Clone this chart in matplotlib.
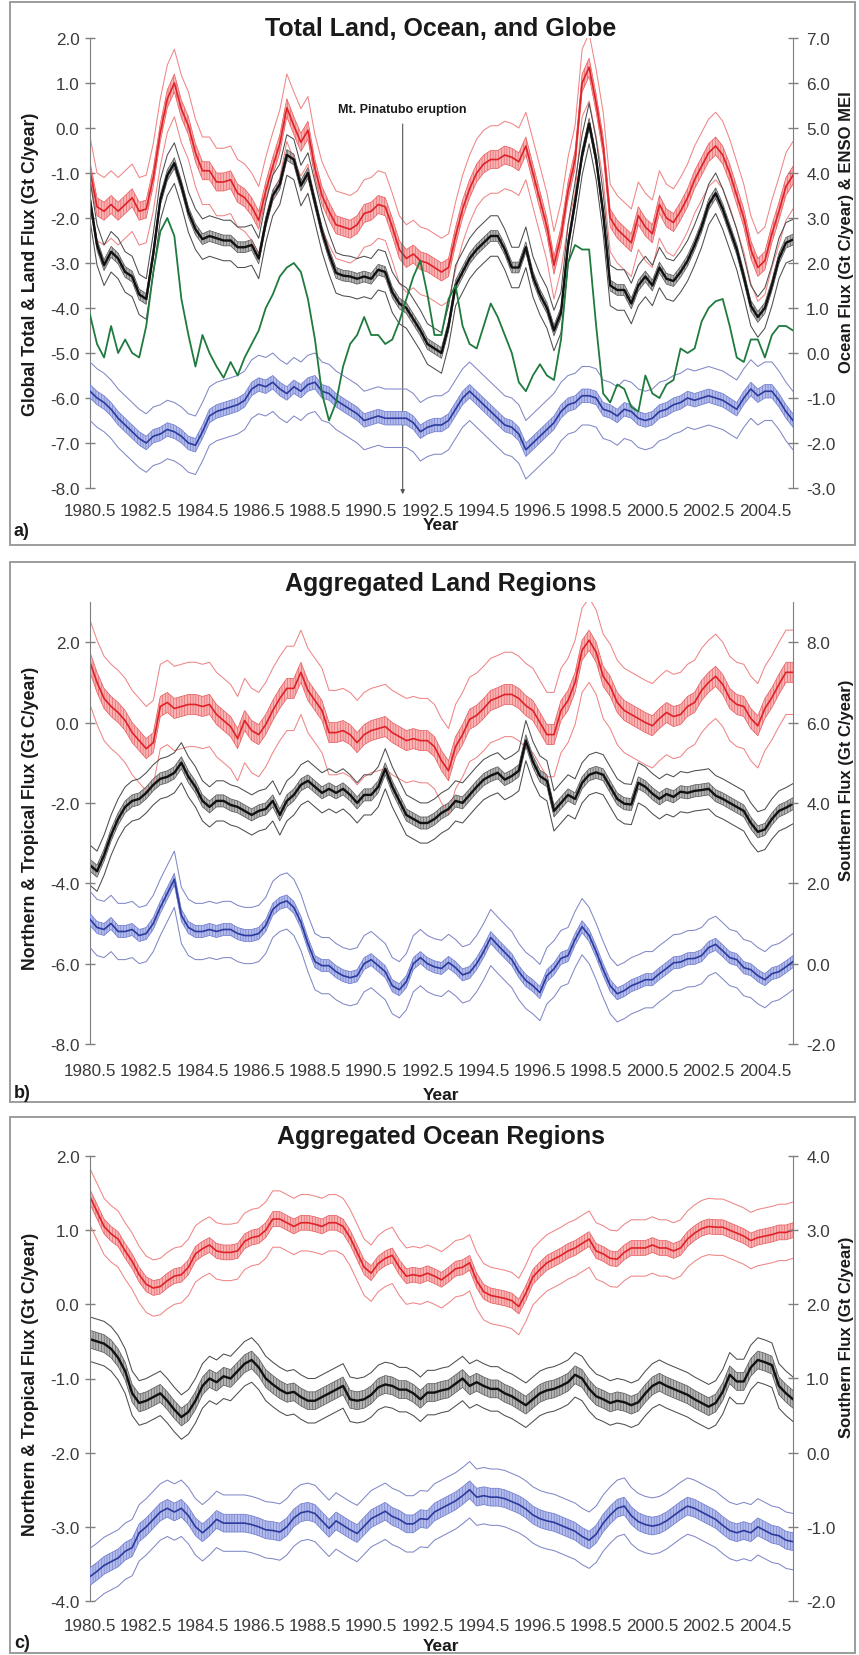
"""Recreate the three-panel carbon flux figure (global, land and ocean regions)."""

import numpy as np
import matplotlib

matplotlib.use("Agg")
from matplotlib import pyplot as plt
from matplotlib.patches import Rectangle

plt.rcParams["font.family"] = ["Liberation Sans", "Arial", "DejaVu Sans"]
plt.rcParams["axes.unicode_minus"] = False
plt.rcParams["hatch.linewidth"] = 0.4

# quarterly samples, 1980.5 .. 2005.5
YEARS = np.arange(1980.5, 2005.51, 0.25)
X_TICKS = np.arange(1980.5, 2004.6, 2.0)

# ---- panel a: total land (red), globe (black), ocean (blue, right axis), ENSO MEI (green, right axis)
LAND_TOTAL = [
    -0.95, -1.75,
    -1.85, -1.7, -1.85, -1.7,
    -1.55, -1.85, -1.8, -1.1,
    -0.1, 0.65, 1.0, 0.42,
    0.05, -0.55, -0.95, -0.95,
    -1.2, -1.2, -1.15, -1.45,
    -1.55, -1.75, -2.05, -1.4,
    -0.85, -0.35, 0.45, 0.05,
    -0.32, -0.05, -0.9, -1.5,
    -1.85, -2.15, -2.2, -2.25,
    -2.15, -1.9, -1.85, -1.7,
    -1.75, -2.2, -2.7, -2.9,
    -2.8, -2.95, -3.0, -3.1,
    -3.2, -3.1, -2.4, -1.8,
    -1.35, -1.0, -0.8, -0.7,
    -0.7, -0.6, -0.65, -0.75,
    -0.4, -1.0, -1.6, -2.2,
    -3.05, -2.4, -1.4, -0.7,
    1.0, 1.35, 0.55, -0.4,
    -2.0, -2.25, -2.4, -2.55,
    -1.95, -2.2, -2.35, -1.7,
    -2.0, -2.1, -1.85, -1.55,
    -1.15, -0.85, -0.55, -0.4,
    -0.6, -1.0, -1.5, -2.0,
    -2.7, -3.1, -2.95, -2.35,
    -1.85, -1.3, -1.05,
]
GLOBE_TOTAL = [
    -1.6, -2.6,
    -3.05, -2.75, -2.9, -3.2,
    -3.3, -3.7, -3.8, -2.8,
    -1.6, -1.05, -0.78, -1.28,
    -1.87, -2.25, -2.47, -2.4,
    -2.45, -2.5, -2.5, -2.65,
    -2.65, -2.6, -2.9, -2.1,
    -1.5, -1.25, -0.6, -0.7,
    -1.28, -1.0, -1.65, -2.3,
    -2.8, -3.22, -3.28, -3.3,
    -3.35, -3.3, -3.35, -3.15,
    -3.2, -3.65, -3.9, -4.0,
    -4.25, -4.5, -4.8, -4.9,
    -5.0, -4.4, -3.5, -3.2,
    -2.9, -2.7, -2.55, -2.4,
    -2.4, -2.7, -3.1, -3.1,
    -2.65, -3.3, -3.7, -4.0,
    -4.5, -4.1, -2.6, -1.65,
    -0.6, 0.1, -0.7, -1.9,
    -3.5, -3.6, -3.6, -3.9,
    -3.5, -3.3, -3.5, -3.1,
    -3.35, -3.4, -3.2, -2.95,
    -2.6, -2.2, -1.7, -1.45,
    -1.8, -2.25, -2.7, -3.3,
    -3.95, -4.2, -4.0, -3.5,
    -2.9, -2.55, -2.48,
]
OCEAN_TOTAL = [
    -0.85, -1.0,
    -1.1, -1.25, -1.45, -1.6,
    -1.75, -1.9, -2.0, -1.85,
    -1.8, -1.7, -1.75, -1.85,
    -2.0, -2.05, -1.75, -1.4,
    -1.3, -1.25, -1.2, -1.15,
    -1.05, -0.8, -0.7, -0.75,
    -0.65, -0.8, -0.9, -0.75,
    -0.85, -0.7, -0.65, -0.85,
    -0.9, -1.05, -1.15, -1.25,
    -1.35, -1.5, -1.45, -1.4,
    -1.45, -1.45, -1.45, -1.45,
    -1.55, -1.75, -1.65, -1.6,
    -1.6, -1.5, -1.25, -1.0,
    -0.85, -1.0, -1.15, -1.3,
    -1.45, -1.6, -1.65, -1.8,
    -2.15, -2.0, -1.85, -1.7,
    -1.55, -1.3, -1.15, -1.1,
    -0.95, -0.95, -1.0, -1.25,
    -1.3, -1.4, -1.25, -1.3,
    -1.45, -1.5, -1.45, -1.3,
    -1.25, -1.15, -1.1, -1.0,
    -1.05, -1.0, -0.95, -1.0,
    -1.05, -1.15, -1.25, -1.0,
    -0.8, -0.95, -0.85, -0.85,
    -1.05, -1.3, -1.5,
]
ENSO_MEI = [
    0.85, 0.2,
    -0.1, 0.6, 0.0, 0.3,
    0.0, -0.1, 0.6, 1.8,
    2.7, 3.0, 2.6, 1.2,
    0.4, -0.3, 0.4, 0.0,
    -0.3, -0.55, -0.2, -0.5,
    -0.1, 0.2, 0.5, 1.0,
    1.3, 1.7, 1.9, 2.0,
    1.8, 1.2, 0.3, -0.9,
    -1.5, -1.1, -0.3, 0.2,
    0.4, 0.8, 0.4, 0.4,
    0.2, 0.3, 0.7, 1.2,
    1.7, 2.05, 1.3, 0.4,
    0.4, 1.2, 1.5, 0.6,
    0.2, 0.1, 0.6, 1.1,
    0.8, 0.4, 0.0, -0.65,
    -0.85, -0.5, -0.25, -0.5,
    -0.6, 0.3, 2.0, 2.4,
    2.3, 2.3, 0.6, -0.9,
    -1.1, -0.7, -0.8, -1.2,
    -1.3, -0.5, -0.9, -1.0,
    -0.7, -0.6, 0.1, 0.0,
    0.1, 0.7, 1.0, 1.15,
    1.2, 0.6, -0.1, -0.2,
    0.3, 0.3, -0.1, 0.4,
    0.6, 0.6, 0.5,
]

# ---- panel b: aggregated land regions
LAND_RED = [
    1.5, 1.0,
    0.6, 0.4, 0.25, 0.05,
    -0.25, -0.45, -0.65, -0.5,
    0.4, 0.5, 0.35, 0.4,
    0.45, 0.45, 0.4, 0.45,
    0.2, 0.05, -0.1, -0.4,
    0.05, -0.2, -0.3, -0.05,
    0.3, 0.6, 0.85, 0.85,
    1.25, 0.8, 0.55, 0.3,
    -0.25, -0.25, -0.2, -0.3,
    -0.5, -0.3, -0.2, -0.15,
    -0.1, -0.25, -0.35, -0.45,
    -0.4, -0.45, -0.45, -0.6,
    -0.95, -1.2, -0.6, -0.3,
    0.08, 0.18, 0.35, 0.55,
    0.62, 0.7, 0.7, 0.6,
    0.42, 0.3, 0.0, -0.3,
    -0.3, 0.3, 0.55, 1.0,
    1.8, 2.05, 1.75, 1.15,
    0.9, 0.5, 0.3, 0.2,
    0.1, 0.0, -0.08, 0.1,
    0.25, 0.15, 0.2, 0.4,
    0.5, 0.8, 1.0, 1.15,
    0.95, 0.6, 0.45, 0.4,
    0.1, -0.08, 0.35, 0.62,
    0.95, 1.25, 1.25,
]
LAND_BLACK = [
    -3.55, -3.7,
    -3.3, -2.8, -2.4, -2.1,
    -1.95, -1.9, -1.75, -1.55,
    -1.4, -1.35, -1.25, -1.0,
    -1.35, -1.6, -1.95, -2.1,
    -1.95, -1.95, -2.05, -2.1,
    -2.2, -2.3, -2.2, -2.15,
    -1.95, -2.3, -1.95, -1.8,
    -1.55, -1.45, -1.6, -1.75,
    -1.65, -1.75, -1.65, -1.8,
    -2.0, -1.8, -1.8, -1.6,
    -1.15, -1.6, -1.95, -2.3,
    -2.4, -2.5, -2.5, -2.4,
    -2.25, -2.15, -1.95, -2.0,
    -1.8, -1.6, -1.42, -1.32,
    -1.25, -1.42, -1.33, -1.2,
    -0.45, -0.97, -1.33, -1.45,
    -2.2, -2.0, -1.8, -1.9,
    -1.5, -1.3, -1.24, -1.3,
    -1.6, -1.9, -2.02, -2.04,
    -1.5, -1.6, -1.77, -1.9,
    -1.78, -1.85, -1.72, -1.75,
    -1.7, -1.68, -1.65, -1.82,
    -1.9, -2.0, -2.1, -2.2,
    -2.5, -2.72, -2.66, -2.4,
    -2.2, -2.12, -2.02,
]
LAND_SOUTH = [
    1.1, 0.9,
    0.85, 1.0, 0.8, 0.8,
    0.85, 0.7, 0.75, 1.0,
    1.4, 1.75, 2.1, 1.2,
    0.9, 0.8, 0.8, 0.85,
    0.8, 0.85, 0.85, 0.75,
    0.7, 0.7, 0.75, 0.95,
    1.35, 1.5, 1.56, 1.4,
    1.03, 0.5, 0.05, -0.05,
    -0.05, -0.2, -0.3, -0.35,
    -0.3, 0.0, 0.1, -0.05,
    -0.2, -0.55, -0.65, -0.45,
    0.0, 0.15, 0.0, -0.08,
    -0.12, 0.03, -0.1, -0.28,
    -0.22, 0.0, 0.3, 0.65,
    0.46, 0.28, 0.1, -0.2,
    -0.42, -0.55, -0.72, -0.3,
    -0.13, 0.13, 0.2, 0.6,
    0.92, 0.7, 0.3, -0.15,
    -0.55, -0.75, -0.67, -0.55,
    -0.48, -0.4, -0.4, -0.25,
    -0.12, 0.02, 0.04, 0.12,
    0.13, 0.2, 0.4, 0.48,
    0.32, 0.15, 0.1, -0.1,
    -0.15, -0.3, -0.4, -0.25,
    -0.2, -0.08, 0.05,
]

# ---- panel c: aggregated ocean regions
OCEAN_RED = [
    1.45, 1.25,
    1.05, 0.95, 0.88, 0.72,
    0.58, 0.4, 0.27, 0.22,
    0.24, 0.32, 0.38, 0.4,
    0.5, 0.68, 0.75, 0.8,
    0.72, 0.7, 0.7, 0.72,
    0.85, 0.9, 0.92, 1.0,
    1.15, 1.15, 1.1, 1.05,
    1.1, 1.1, 1.08, 1.05,
    1.1, 1.1, 1.05, 0.9,
    0.7, 0.5, 0.42, 0.55,
    0.62, 0.66, 0.5, 0.38,
    0.4, 0.38, 0.42, 0.38,
    0.33, 0.4, 0.48, 0.5,
    0.56, 0.32, 0.17, 0.12,
    0.1, 0.08, 0.05, -0.03,
    0.15, 0.37, 0.47, 0.56,
    0.61, 0.66, 0.72, 0.76,
    0.82, 0.88, 0.72, 0.68,
    0.62, 0.61, 0.7, 0.76,
    0.76, 0.76, 0.8, 0.76,
    0.76, 0.72, 0.76, 0.88,
    0.96, 1.02, 1.05, 1.04,
    1.04, 1.0, 0.96, 0.92,
    0.86, 0.9, 0.92, 0.94,
    0.97, 0.97, 1.0,
]
OCEAN_BLACK = [
    -0.47, -0.5,
    -0.53, -0.6, -0.72, -0.9,
    -1.2, -1.33, -1.3, -1.25,
    -1.2, -1.3, -1.42, -1.52,
    -1.45, -1.3, -1.1, -1.0,
    -1.05, -0.97, -1.0, -0.9,
    -0.8, -0.75, -0.85, -1.0,
    -1.08, -1.15, -1.2, -1.18,
    -1.25, -1.3, -1.3, -1.25,
    -1.2, -1.15, -1.1, -1.28,
    -1.3, -1.28, -1.22, -1.12,
    -1.08, -1.1, -1.15, -1.15,
    -1.2, -1.28, -1.19, -1.19,
    -1.16, -1.14, -1.07, -1.0,
    -1.1, -1.05, -1.1, -1.14,
    -1.14, -1.2, -1.24, -1.3,
    -1.36, -1.28, -1.2, -1.16,
    -1.14, -1.1, -1.05, -0.95,
    -1.0, -1.14, -1.24, -1.28,
    -1.33, -1.3, -1.32, -1.36,
    -1.32, -1.2, -1.1, -1.05,
    -1.1, -1.14, -1.18, -1.22,
    -1.28, -1.33, -1.38, -1.33,
    -1.18, -0.95, -1.04, -1.04,
    -0.85, -0.75, -0.78, -0.82,
    -1.1, -1.2, -1.28,
]
OCEAN_SOUTH = [
    -1.67, -1.6,
    -1.52, -1.47, -1.42, -1.33,
    -1.28, -1.08, -1.0, -0.9,
    -0.8, -0.75, -0.8, -0.75,
    -0.85, -1.0, -1.08, -1.0,
    -0.9, -0.95, -0.95, -0.95,
    -0.95, -0.97, -1.0, -1.04,
    -1.05, -1.07, -1.0, -0.88,
    -0.81, -0.79, -0.82, -0.92,
    -1.02, -0.92, -0.98, -1.04,
    -1.09, -0.99, -0.89, -0.84,
    -0.79, -0.86, -0.9, -0.96,
    -0.96, -0.89, -0.9, -0.8,
    -0.75, -0.7, -0.65, -0.58,
    -0.5, -0.6, -0.58, -0.6,
    -0.6, -0.62, -0.66, -0.7,
    -0.76, -0.84, -0.89, -0.92,
    -0.94, -0.98, -1.02, -1.06,
    -1.13, -1.18, -1.1, -0.95,
    -0.84, -0.75, -0.72, -0.85,
    -0.93, -0.97, -0.99, -0.97,
    -0.92, -0.85, -0.78, -0.72,
    -0.75, -0.8, -0.85, -0.9,
    -0.98, -1.05, -1.08, -1.05,
    -1.08, -1.0, -1.05, -1.1,
    -1.12, -1.18, -1.2,
]

# uncertainty half-widths (inner band, outer lines) per series
SPREAD_A = {"red": (0.2, 0.75), "black": (0.12, 0.45), "blue": (0.15, 0.65)}
SPREAD_B = {"red": (0.25, 1.05), "black": (0.15, 0.5), "blue": (0.15, 0.7)}
SPREAD_C = {"red": (0.1, 0.38), "black": (0.12, 0.3), "blue": (0.12, 0.38)}

W, H = 859, 1656
TEXT = "#1a1a1a"
TICK_TEXT = "#3a3a3a"
AXIS_GRAY = "#7f7f7f"
TICK_SIZE = 12.3
STYLES = {
    "red": {"line": "#de2228", "fill": "#f8b4b4", "hatch": "#e8585b", "outer": "#ef8585", "lw": 1.2},
    "black": {"line": "#111111", "fill": "#b4b4b4", "hatch": "#555555", "outer": "#4d4d4d", "lw": 1.7},
    "blue": {"line": "#2b3a9c", "fill": "#b3bbea", "hatch": "#6a78cc", "outer": "#8088c6", "lw": 1.2},
}
GREEN = "#1f7a3e"


def fig_box(left, top, right, bottom):
    """Convert a pixel box (origin top-left) to figure fraction."""
    return [left / W, 1 - bottom / H, (right - left) / W, (bottom - top) / H]


def draw_series(ax, center, spread, style_name):
    """Center line, hatched inner band and two thin outer lines."""
    style = STYLES[style_name]
    center = np.asarray(center, dtype=float)
    inner, outer = spread
    ax.plot(YEARS, center + outer, color=style["outer"], lw=0.75)
    ax.plot(YEARS, center - outer, color=style["outer"], lw=0.75)
    ax.fill_between(
        YEARS, center - inner, center + inner,
        facecolor=style["fill"], edgecolor=style["hatch"], hatch="||||||", linewidth=0,
    )
    ax.plot(YEARS, center + inner, color=style["hatch"], lw=0.5)
    ax.plot(YEARS, center - inner, color=style["hatch"], lw=0.5)
    ax.plot(YEARS, center, color=style["line"], lw=style["lw"])


def make_panel(fig, box, left_lim, left_ticks, right_lim, right_ticks, xpad):
    ax = fig.add_axes(fig_box(*box))
    ax2 = ax.twinx()
    for a in (ax, ax2):
        a.set_xlim(1980.5, 2005.5)
        a.spines["top"].set_visible(False)
        a.spines["bottom"].set_visible(False)
        a.patch.set_visible(False)
    ax.spines["right"].set_visible(False)
    ax2.spines["left"].set_visible(False)
    ax.spines["left"].set_color(AXIS_GRAY)
    ax2.spines["right"].set_color(AXIS_GRAY)

    ax.set_ylim(*left_lim)
    ax2.set_ylim(*right_lim)
    ax.set_yticks(left_ticks)
    ax2.set_yticks(right_ticks)
    ax.set_yticklabels([f"{t:.1f}" for t in left_ticks])
    ax2.set_yticklabels([f"{t:.1f}" for t in right_ticks])
    ax.tick_params(axis="y", direction="inout", length=7, width=1, color=AXIS_GRAY,
                   labelsize=TICK_SIZE, labelcolor=TICK_TEXT, pad=4)
    ax2.tick_params(axis="y", direction="inout", length=7, width=1, color=AXIS_GRAY,
                    labelsize=TICK_SIZE, labelcolor=TICK_TEXT, pad=6)

    ax.set_xticks(X_TICKS)
    ax.set_xticklabels([f"{t:.1f}" for t in X_TICKS])
    ax.tick_params(axis="x", length=0, labelsize=TICK_SIZE, labelcolor=TICK_TEXT, pad=xpad)
    ax2.tick_params(axis="x", length=0, labelbottom=False)
    return ax, ax2


def panel_frame(fig, top, bottom):
    rect = Rectangle((10 / W, 1 - bottom / H), 845 / W, (bottom - top) / H,
                     transform=fig.transFigure, fill=False, edgecolor="#9c9c9c", lw=1.4)
    fig.patches.append(rect)


def fig_text(fig, x, y, s, **kw):
    fig.text(x / W, 1 - y / H, s, color=TEXT, ha="center", va="center", **kw)


def main():
    fig = plt.figure(figsize=(W / 100, H / 100), dpi=100)

    # ---------------- panel a
    panel_frame(fig, 3, 546)
    ax, ax2 = make_panel(fig, (90, 39, 793, 489), (-8, 2), np.arange(-8, 2.1, 1),
                         (-3, 7), np.arange(-3, 7.1, 1), 11)
    draw_series(ax, LAND_TOTAL, SPREAD_A["red"], "red")
    draw_series(ax, GLOBE_TOTAL, SPREAD_A["black"], "black")
    draw_series(ax2, OCEAN_TOTAL, SPREAD_A["blue"], "blue")
    ax2.plot(YEARS, ENSO_MEI, color=GREEN, lw=1.3)
    ax.annotate("", xy=(1991.62, -8.2), xytext=(1991.62, 0.15), annotation_clip=False,
                arrowprops=dict(arrowstyle="-|>", color="#555555", lw=0.8, mutation_scale=6))
    ax.text(1991.62, 0.42, "Mt. Pinatubo eruption", ha="center", va="center",
            fontsize=9, fontweight="bold", color=TEXT)
    fig_text(fig, 441, 29, "Total Land, Ocean, and Globe", fontsize=18, fontweight="bold")
    fig_text(fig, 31, 264, "Global Total & Land Flux (Gt C/year)", fontsize=12.8,
             fontweight="bold", rotation=90)
    fig_text(fig, 846, 232, "Ocean Flux (Gt C/year) & ENSO MEI", fontsize=12,
             fontweight="bold", rotation=90)
    fig_text(fig, 441, 526, "Year", fontsize=12.5, fontweight="bold")
    fig.text(14 / W, 1 - 531 / H, "a)", fontsize=13, fontweight="bold", color=TEXT, va="center")

    # ---------------- panel b
    panel_frame(fig, 563, 1103)
    ax, ax2 = make_panel(fig, (90, 603, 793, 1045), (-8, 3), np.arange(-8, 2.1, 2),
                         (-2, 9), np.arange(-2, 8.1, 2), 14)
    draw_series(ax, LAND_RED, SPREAD_B["red"], "red")
    draw_series(ax, LAND_BLACK, SPREAD_B["black"], "black")
    draw_series(ax2, LAND_SOUTH, SPREAD_B["blue"], "blue")
    fig_text(fig, 441, 584, "Aggregated Land Regions", fontsize=18, fontweight="bold")
    fig_text(fig, 31, 818, "Northern & Tropical Flux (Gt C/year)", fontsize=12.8,
             fontweight="bold", rotation=90)
    fig_text(fig, 846, 780, "Southern Flux (Gt C/year)", fontsize=12,
             fontweight="bold", rotation=90)
    fig_text(fig, 441, 1095, "Year", fontsize=12.5, fontweight="bold")
    fig.text(14 / W, 1 - 1094 / H, "b)", fontsize=13, fontweight="bold", color=TEXT, va="center")

    # ---------------- panel c
    panel_frame(fig, 1118, 1654)
    ax, ax2 = make_panel(fig, (90, 1157, 793, 1602), (-4, 2), np.arange(-4, 2.1, 1),
                         (-2, 4), np.arange(-2, 4.1, 1), 12)
    draw_series(ax, OCEAN_RED, SPREAD_C["red"], "red")
    draw_series(ax, OCEAN_BLACK, SPREAD_C["black"], "black")
    draw_series(ax2, OCEAN_SOUTH, SPREAD_C["blue"], "blue")
    fig_text(fig, 441, 1137, "Aggregated Ocean Regions", fontsize=18, fontweight="bold")
    fig_text(fig, 31, 1384, "Northern & Tropical Flux (Gt C/year)", fontsize=12.8,
             fontweight="bold", rotation=90)
    fig_text(fig, 846, 1337, "Southern Flux (Gt C/year)", fontsize=12,
             fontweight="bold", rotation=90)
    fig_text(fig, 441, 1647, "Year", fontsize=12.5, fontweight="bold")
    fig.text(14 / W, 1 - 1644 / H, "c)", fontsize=13, fontweight="bold", color=TEXT, va="center")

    fig.savefig("out.png", dpi=100)
    plt.close(fig)


if __name__ == "__main__":
    main()
